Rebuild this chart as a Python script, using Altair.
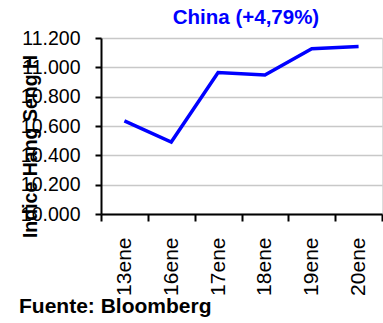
import altair as alt
import pandas as pd

dates = ["13ene", "16ene", "17ene", "18ene", "19ene", "20ene"]
values = [10635, 10491, 10965, 10948, 11127, 11142]
y_ticks = [10000, 10200, 10400, 10600, 10800, 11000, 11200]
title_text = ["China (+4,79%)"]
y_title = "Indice Hang Seng H"
footer = ["Fuente: Bloomberg"]

FONT = "Liberation Sans"
FS = 19.5

df = pd.DataFrame({"fecha": dates, "valor": values})

line = alt.Chart(df).mark_line(color="#0000ff", strokeWidth=3.5).encode(
    x=alt.X(
        "fecha:O",
        sort=dates,
        scale=alt.Scale(type="band", paddingInner=0, paddingOuter=0),
        axis=alt.Axis(
            title=None,
            tickBand="extent",
            labelAngle=270,
            labelAlign="right",
            labelBaseline="middle",
            labelFontSize=21,
            labelFont=FONT,
            labelColor="black",
            labelPadding=16,
            tickSize=7,
            tickColor="black",
            tickWidth=2,
            domainColor="black",
            domainWidth=2,
            grid=False,
        ),
    ),
    y=alt.Y(
        "valor:Q",
        scale=alt.Scale(domain=[10000, 11200], nice=False, zero=False),
        axis=alt.Axis(
            values=y_ticks,
            title=y_title,
            titleFont=FONT,
            titleFontSize=FS,
            titleFontWeight="bold",
            titleColor="black",
            titleAngle=270,
            titleAlign="center",
            titleBaseline="alphabetic",
            titleX=-65,
            titleY=108,
            labelExpr="replace(format(datum.value, ',.0f'), ',', '.')",
            labelFontSize=FS,
            labelFont=FONT,
            labelColor="black",
            labelPadding=15,
            tickSize=6,
            tickColor="black",
            tickWidth=2,
            domainColor="black",
            domainWidth=2,
            grid=True,
            gridColor="#c8c8c8",
            gridWidth=1.5,
        ),
    ),
)

title = alt.Chart(pd.DataFrame({"t": title_text})).mark_text(
    font=FONT, fontSize=20.5, fontWeight="bold", align="center",
    baseline="alphabetic", color="#0000ff",
).encode(text="t:N", x=alt.value(145), y=alt.value(-14))

foot = alt.Chart(pd.DataFrame({"t": footer})).mark_text(
    font=FONT, fontSize=21, fontWeight="bold", align="left",
    baseline="alphabetic", color="black",
).encode(text="t:N", x=alt.value(-82), y=alt.value(275))

chart = alt.layer(line, title, foot).properties(
    width=281,
    height=176,
    autosize=alt.AutoSizeParams(type="none"),
    padding={"left": 101, "top": 38, "right": 1, "bottom": 109},
).configure_view(stroke=None).configure(background="white")

chart.save("out.html", embed_options={"renderer": "svg", "actions": False})
